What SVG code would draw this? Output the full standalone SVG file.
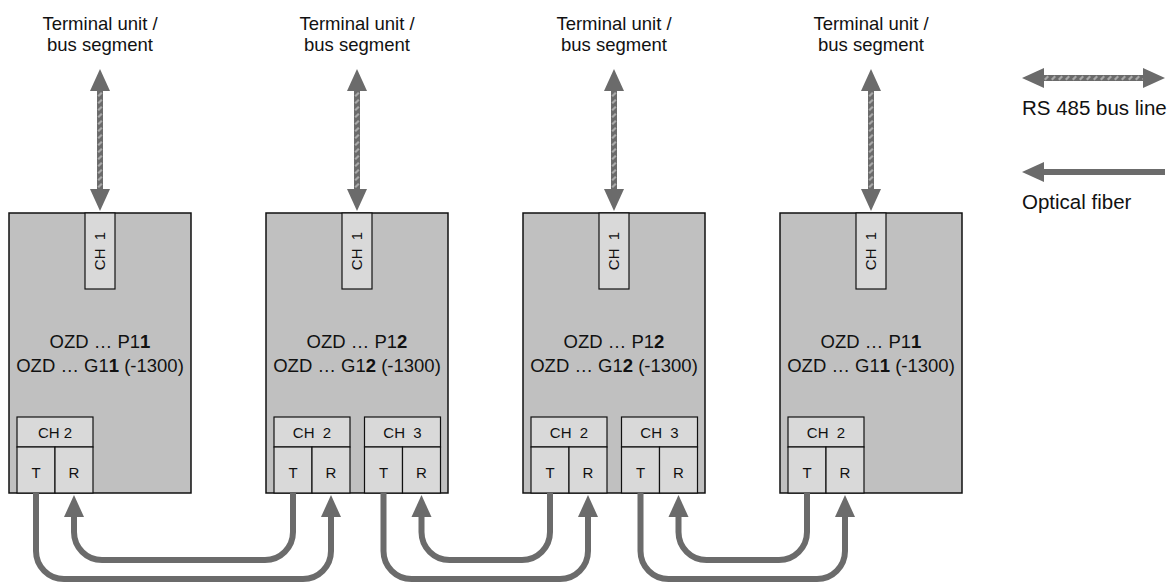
<svg xmlns="http://www.w3.org/2000/svg" xmlns:xlink="http://www.w3.org/1999/xlink" width="1173" height="582" viewBox="0 0 1173 582">
<style>
text{font-family:"Liberation Sans",Arial,sans-serif;fill:#111}
.lbl{font-size:18.5px;text-anchor:middle}
.dev{font-size:18.5px;text-anchor:middle}
.ch{font-size:15px;text-anchor:middle;white-space:pre}
.leg{font-size:20.5px}
.box{fill:#c0c0c0;stroke:#111;stroke-width:1.5}
.cell{fill:#d9d9d9;stroke:#111;stroke-width:1.2}
.fiber{fill:none;stroke:#6b6b6b;stroke-width:6}
.head{fill:#6b6b6b}
b,.b{font-weight:bold}
</style>
<defs>
<pattern id="hatchV" width="6" height="7" patternUnits="userSpaceOnUse" x="-3">
<rect width="6" height="7" fill="#6b6b6b"/>
<path d="M1.2,5.2 L4.8,1.8" stroke="#a9a9a9" stroke-width="2.2"/>
</pattern>
<pattern id="hatchH" width="7" height="6" patternUnits="userSpaceOnUse" y="-3">
<rect width="7" height="6" fill="#6b6b6b"/>
<path d="M1.8,4.8 L5.2,1.2" stroke="#a9a9a9" stroke-width="2.2"/>
</pattern>
<g id="busV">
<rect x="-3" y="90" width="6" height="100" fill="url(#hatchV)"/>
<polygon class="head" points="0,69 10,91 -10,91"/>
<polygon class="head" points="0,211 10,189 -10,189"/>
</g>
<marker id="arr" markerUnits="userSpaceOnUse" markerWidth="24" markerHeight="22" refX="0" refY="10" orient="auto" overflow="visible">
<path d="M0,0 L22,10 L0,20 z" fill="#6b6b6b"/>
</marker>
</defs>

<g id="labels">
<text class="lbl" x="100" y="29.5">Terminal unit /</text>
<text class="lbl" x="100" y="50.5">bus segment</text>
<text class="lbl" x="357" y="29.5">Terminal unit /</text>
<text class="lbl" x="357" y="50.5">bus segment</text>
<text class="lbl" x="614" y="29.5">Terminal unit /</text>
<text class="lbl" x="614" y="50.5">bus segment</text>
<text class="lbl" x="871" y="29.5">Terminal unit /</text>
<text class="lbl" x="871" y="50.5">bus segment</text>
</g>

<g id="device1">
<rect class="box" x="9" y="213" width="182" height="280"/>
<rect class="cell" x="85" y="213" width="30" height="76"/>
<text class="ch" transform="translate(105.4,251) rotate(-90)">CH  1</text>
<text class="dev" x="100" y="348">OZD … P1<tspan class="b">1</tspan></text>
<text class="dev" x="100" y="372">OZD … G1<tspan class="b">1</tspan> (-1300)</text>
<rect class="cell" x="17" y="417" width="76" height="30"/>
<rect class="cell" x="17" y="447" width="38" height="46"/>
<rect class="cell" x="55" y="447" width="38" height="46"/>
<text class="ch" x="55" y="437.5">CH 2</text>
<text class="ch" x="36" y="477.5">T</text>
<text class="ch" x="74" y="477.5">R</text>
</g>

<g id="device2">
<rect class="box" x="266" y="213" width="182" height="280"/>
<rect class="cell" x="342" y="213" width="30" height="76"/>
<text class="ch" transform="translate(362.4,251) rotate(-90)">CH  1</text>
<text class="dev" x="357" y="348">OZD … P1<tspan class="b">2</tspan></text>
<text class="dev" x="357" y="372">OZD … G1<tspan class="b">2</tspan> (-1300)</text>
<rect class="cell" x="274" y="417" width="76" height="30"/>
<rect class="cell" x="274" y="447" width="38" height="46"/>
<rect class="cell" x="312" y="447" width="38" height="46"/>
<text class="ch" x="312" y="437.5">CH  2</text>
<text class="ch" x="293" y="477.5">T</text>
<text class="ch" x="331" y="477.5">R</text>
<rect class="cell" x="364.5" y="417" width="76" height="30"/>
<rect class="cell" x="364.5" y="447" width="38" height="46"/>
<rect class="cell" x="402.5" y="447" width="38" height="46"/>
<text class="ch" x="402.5" y="437.5">CH  3</text>
<text class="ch" x="383.5" y="477.5">T</text>
<text class="ch" x="421.5" y="477.5">R</text>
</g>

<g id="device3">
<rect class="box" x="523" y="213" width="182" height="280"/>
<rect class="cell" x="599" y="213" width="30" height="76"/>
<text class="ch" transform="translate(619.4,251) rotate(-90)">CH  1</text>
<text class="dev" x="614" y="348">OZD … P1<tspan class="b">2</tspan></text>
<text class="dev" x="614" y="372">OZD … G1<tspan class="b">2</tspan> (-1300)</text>
<rect class="cell" x="531" y="417" width="76" height="30"/>
<rect class="cell" x="531" y="447" width="38" height="46"/>
<rect class="cell" x="569" y="447" width="38" height="46"/>
<text class="ch" x="569" y="437.5">CH  2</text>
<text class="ch" x="550" y="477.5">T</text>
<text class="ch" x="588" y="477.5">R</text>
<rect class="cell" x="621.5" y="417" width="76" height="30"/>
<rect class="cell" x="621.5" y="447" width="38" height="46"/>
<rect class="cell" x="659.5" y="447" width="38" height="46"/>
<text class="ch" x="659.5" y="437.5">CH  3</text>
<text class="ch" x="640.5" y="477.5">T</text>
<text class="ch" x="678.5" y="477.5">R</text>
</g>

<g id="device4">
<rect class="box" x="780" y="213" width="182" height="280"/>
<rect class="cell" x="856" y="213" width="30" height="76"/>
<text class="ch" transform="translate(876.4,251) rotate(-90)">CH  1</text>
<text class="dev" x="871" y="348">OZD … P1<tspan class="b">1</tspan></text>
<text class="dev" x="871" y="372">OZD … G1<tspan class="b">1</tspan> (-1300)</text>
<rect class="cell" x="788" y="417" width="76" height="30"/>
<rect class="cell" x="788" y="447" width="38" height="46"/>
<rect class="cell" x="826" y="447" width="38" height="46"/>
<text class="ch" x="826" y="437.5">CH  2</text>
<text class="ch" x="807" y="477.5">T</text>
<text class="ch" x="845" y="477.5">R</text>
</g>

<g id="connectors">
<use xlink:href="#busV" href="#busV" x="100" y="0"/>
<use xlink:href="#busV" href="#busV" x="357" y="0"/>
<use xlink:href="#busV" href="#busV" x="614" y="0"/>
<use xlink:href="#busV" href="#busV" x="871" y="0"/>
<path class="fiber" marker-end="url(#arr)" d="M36,493 V551 A28,28 0 0 0 64,579 H303 A28,28 0 0 0 331,551 V517"/>
<path class="fiber" marker-end="url(#arr)" d="M293,493 V532 A28,28 0 0 1 265,560 H102 A28,28 0 0 1 74,532 V517"/>
<path class="fiber" marker-end="url(#arr)" d="M383.5,493 V551 A28,28 0 0 0 411.5,579 H560 A28,28 0 0 0 588,551 V517"/>
<path class="fiber" marker-end="url(#arr)" d="M550,493 V532 A28,28 0 0 1 522,560 H449.5 A28,28 0 0 1 421.5,532 V517"/>
<path class="fiber" marker-end="url(#arr)" d="M640.5,493 V551 A28,28 0 0 0 668.5,579 H817 A28,28 0 0 0 845,551 V517"/>
<path class="fiber" marker-end="url(#arr)" d="M807,493 V532 A28,28 0 0 1 779,560 H706.5 A28,28 0 0 1 678.5,532 V517"/>
</g>

<g id="legend">
<rect x="1042" y="75" width="103" height="6" fill="url(#hatchH)"/>
<polygon class="head" points="1022,78 1044,68 1044,88"/>
<polygon class="head" points="1165,78 1143,68 1143,88"/>
<text class="leg" x="1022" y="115">RS 485 bus line</text>
<path class="fiber" marker-end="url(#arr)" d="M1165,172 H1044"/>
<text class="leg" x="1022" y="209">Optical fiber</text>
</g>
</svg>
